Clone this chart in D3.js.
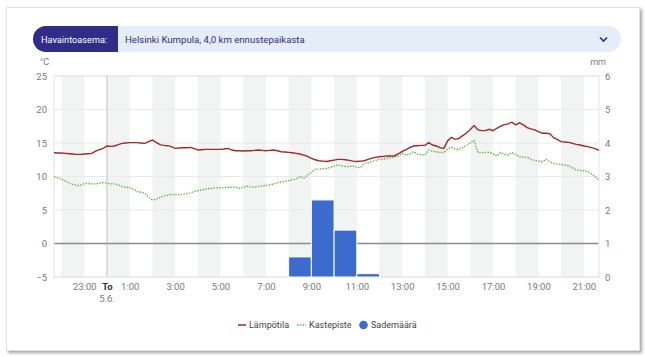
<!DOCTYPE html>
<html><head><meta charset="utf-8">
<script src="https://cdn.jsdelivr.net/npm/d3@7"></script>
<style>
html,body{margin:0;padding:0;background:#fff;width:645px;height:357px;overflow:hidden;font-family:Roboto,"Noto Sans",sans-serif;}
#card{position:absolute;left:6px;top:7px;width:632px;height:342px;background:#fff;border:1px solid #e2e2e2;box-shadow:2px 2px 3px rgba(0,0,0,0.35);}
svg{position:absolute;left:0;top:0;}
</style></head><body>
<div id="card"></div>
<svg id="chart" width="645" height="357"></svg>
<script>
// ---- data ----
const startTime = "2025-06-04T21:40";   // first observation, 10-minute steps
const stepMinutes = 10;
const temperature = [
 13.55,13.5,
 13.5,13.45,13.4,13.35,13.3,13.3,
 13.35,13.4,13.45,13.8,14.0,14.2,
 14.55,14.5,14.55,14.75,14.95,15.0,
 15.05,15.05,15.05,15.0,14.95,15.2,
 15.45,15.1,14.75,14.65,14.6,14.45,
 14.2,14.25,14.3,14.3,14.35,14.2,
 13.95,14.0,14.05,14.05,14.05,14.05,
 14.05,14.1,14.2,13.95,13.85,13.85,
 13.8,13.85,13.85,13.9,13.95,13.9,
 13.85,13.9,13.95,13.85,13.7,13.65,
 13.6,13.55,13.45,13.35,13.2,13.0,
 12.7,12.5,12.35,12.3,12.25,12.35,
 12.45,12.55,12.55,12.5,12.4,12.3,
 12.25,12.3,12.35,12.55,12.75,12.85,
 12.95,13.0,13.05,13.05,13.1,13.4,
 13.75,14.0,14.3,14.55,14.6,14.65,
 14.65,15.05,14.7,14.55,14.3,14.2,
 15.3,15.85,15.55,15.7,16.1,16.5,
 17.0,17.6,16.95,16.85,16.85,17.05,
 16.85,17.2,17.5,17.75,17.85,18.1,
 17.7,18.0,17.7,17.3,17.1,16.95,
 16.7,16.45,16.45,16.4,15.8,15.5,
 15.2,15.15,15.1,14.95,14.8,14.7,
 14.55,14.45,14.3,14.15,13.9
];
const dewPoint = [
 9.97,9.8,
 9.6,9.3,9.05,8.8,8.65,8.7,
 8.95,8.95,8.9,8.9,9.0,9.1,
 9.0,8.9,8.9,8.75,8.5,8.4,
 8.33,8.1,7.75,7.65,7.5,6.9,
 6.5,6.6,6.85,7.1,7.2,7.33,
 7.3,7.25,7.35,7.45,7.55,7.75,
 7.88,8.0,8.1,8.2,8.25,8.33,
 8.33,8.35,8.4,8.4,8.43,8.25,
 8.4,8.55,8.45,8.4,8.5,8.6,
 8.68,8.75,8.85,9.05,9.2,9.3,
 9.38,9.5,9.65,10.0,9.75,10.2,
 10.6,11.1,11.1,11.15,11.2,11.35,
 11.55,11.75,11.6,11.5,11.5,11.55,
 11.35,11.35,11.95,12.05,12.25,12.4,
 12.55,12.6,12.7,12.85,12.95,13.05,
 13.5,13.2,13.35,13.7,13.35,13.25,
 13.2,13.95,13.75,13.7,13.6,13.55,
 14.1,14.35,14.1,14.05,14.35,14.65,
 15.0,15.35,13.6,13.55,13.6,13.6,
 13.4,13.05,13.6,13.3,13.2,13.55,
 13.3,12.95,12.9,12.85,12.6,12.4,
 12.3,12.2,12.55,12.2,11.95,11.85,
 11.8,11.7,11.6,11.3,10.97,10.9,
 10.85,10.75,10.4,9.95,9.45
];
const precipStart = ["2025-06-05T08:00","2025-06-05T09:00","2025-06-05T10:00","2025-06-05T11:00"];
const precipitation = [0.6, 2.3, 1.4, 0.1];
const tempTicks = [-5,0,5,10,15,20,25];
const mmTicks = [0,1,2,3,4,5,6];
const xTickHours = [-1,1,3,5,7,9,11,13,15,17,19,21];
const legendLabels = ["Lämpötila","Kastepiste","Sademäärä"];
const stationLabel = "Havaintoasema:";
const stationName = "Helsinki Kumpula, 4,0 km ennustepaikasta";

// ---- setup ----
const svg = d3.select("#chart");
const parse = d3.timeParse("%Y-%m-%dT%H:%M");
const t0 = parse(startTime);
const times = temperature.map((d,i)=> d3.timeMinute.offset(t0, i*stepMinutes));
const tEnd = times[times.length-1];
const midnight = parse("2025-06-05T00:00");

const L=54, R=599, T=76, B=277;
const x = d3.scaleTime().domain([t0,tEnd]).range([L,R]);
const y = d3.scaleLinear().domain([-5,25]).range([B,T]);
const yR = d3.scaleLinear().domain([0,6]).range([B,T]);
const C = { text:"#7a7a7a" };

// header pill
const pill = svg.append("g");
pill.append("rect").attr("x",33).attr("y",26).attr("width",588).attr("height",26).attr("rx",13).attr("fill","#e5edf8");
pill.append("path").attr("d","M118,26 H46 A13,13 0 0 0 46,52 H118 Z").attr("fill","#2f2d86");
pill.append("text").attr("x",41).attr("y",42.5).attr("fill","#fff").attr("font-size",9.2).text(stationLabel);
pill.append("text").attr("x",125).attr("y",42.5).attr("fill","#2f2d86").attr("font-size",9.6).text(stationName);
pill.append("path").attr("d","M600,37.5 l3.5,3.5 l3.5,-3.5").attr("fill","none").attr("stroke","#2f2d86").attr("stroke-width",1.6);

// stripes on even hours
const hours = d3.timeHour.range(d3.timeHour.ceil(t0), tEnd);
svg.append("g").selectAll("rect").data(hours.filter(h=>h.getHours()%2===0)).join("rect")
  .attr("x",d=>x(d)).attr("y",T).attr("width",d=>x(d3.timeHour.offset(d,1))-x(d)).attr("height",B-T)
  .attr("fill","#f2f3f3");

// grid
svg.append("g").selectAll("line").data(tempTicks).join("line")
  .attr("x1",L).attr("x2",R).attr("y1",d=>y(d)).attr("y2",d=>y(d))
  .attr("stroke",d=>d===0?"#8c8c8c":"#e9e9e9").attr("stroke-width",d=>d===0?1.5:1);
svg.append("rect").attr("x",L).attr("y",T).attr("width",R-L).attr("height",B-T)
  .attr("fill","none").attr("stroke","#e4e4e4");

// midnight line
svg.append("line").attr("x1",x(midnight)).attr("x2",x(midnight)).attr("y1",T).attr("y2",B)
  .attr("stroke","#b5b5b5").attr("stroke-width",0.8);

// bars
svg.append("g").selectAll("rect").data(precipitation).join("rect")
  .attr("x",(d,i)=>x(parse(precipStart[i])))
  .attr("width",(d,i)=>{const s=parse(precipStart[i]);return x(d3.timeHour.offset(s,1))-x(s);})
  .attr("y",d=>yR(d)).attr("height",d=>yR(0)-yR(d))
  .attr("fill","#3a6bcd").attr("stroke","#fff").attr("stroke-width",1);

// lines
const lineT = d3.line().x((d,i)=>x(times[i])).y(d=>y(d));
svg.append("path").attr("d",lineT(dewPoint)).attr("fill","none").attr("stroke","#5fb346")
  .attr("stroke-width",1.4).attr("stroke-dasharray","1.4,1.4");
svg.append("path").attr("d",lineT(temperature)).attr("fill","none").attr("stroke","#a3282b")
  .attr("stroke-width",1.4);

// axes
const axL = d3.axisLeft(y).tickValues(tempTicks).tickSize(0).tickPadding(7);
const gL = svg.append("g").attr("transform",`translate(${L},0)`).call(axL);
const axR = d3.axisRight(yR).tickValues(mmTicks).tickSize(0).tickPadding(6).tickFormat(d3.format("d"));
const gR = svg.append("g").attr("transform",`translate(${R},0)`).call(axR);
const xTickDates = xTickHours.map(h=>d3.timeHour.offset(midnight,h));
const axB = d3.axisBottom(x).tickValues(xTickDates.concat([midnight])).tickSize(0).tickPadding(6)
  .tickFormat(d=> +d===+midnight ? "To" : d3.timeFormat("%-H:%M")(d));
const gB = svg.append("g").attr("transform",`translate(0,${B})`).call(axB);
[gL,gR,gB].forEach(g=>{ g.select(".domain").remove();
  g.selectAll("text").attr("fill",C.text).attr("font-size",9.5).attr("font-family","Roboto,sans-serif"); });
gB.selectAll("text").filter(d=>+d===+midnight).attr("fill","#333").attr("font-weight","bold");
svg.append("text").attr("x",x(midnight)).attr("y",302).attr("text-anchor","middle")
  .attr("fill",C.text).attr("font-size",9.5).text("5.6.");
svg.append("text").attr("x",40).attr("y",65).attr("fill",C.text).attr("font-size",9).text("°C");
svg.append("text").attr("x",606).attr("y",65).attr("text-anchor","end").attr("fill",C.text).attr("font-size",9).text("mm");

// legend
const lg = svg.append("g").attr("font-size",9).attr("fill","#444");
lg.append("line").attr("x1",238).attr("x2",246).attr("y1",325).attr("y2",325).attr("stroke","#a3282b").attr("stroke-width",1.5);
lg.append("text").attr("x",249).attr("y",328.2).text(legendLabels[0]);
lg.append("line").attr("x1",297).attr("x2",306).attr("y1",325).attr("y2",325).attr("stroke","#5fb346").attr("stroke-width",1.4).attr("stroke-dasharray","1.4,1.4");
lg.append("text").attr("x",309).attr("y",328.2).text(legendLabels[1]);
lg.append("circle").attr("cx",363.5).attr("cy",325).attr("r",4.3).attr("fill","#3a6bcd");
lg.append("text").attr("x",371).attr("y",328.2).text(legendLabels[2]);
</script>
</body></html>
